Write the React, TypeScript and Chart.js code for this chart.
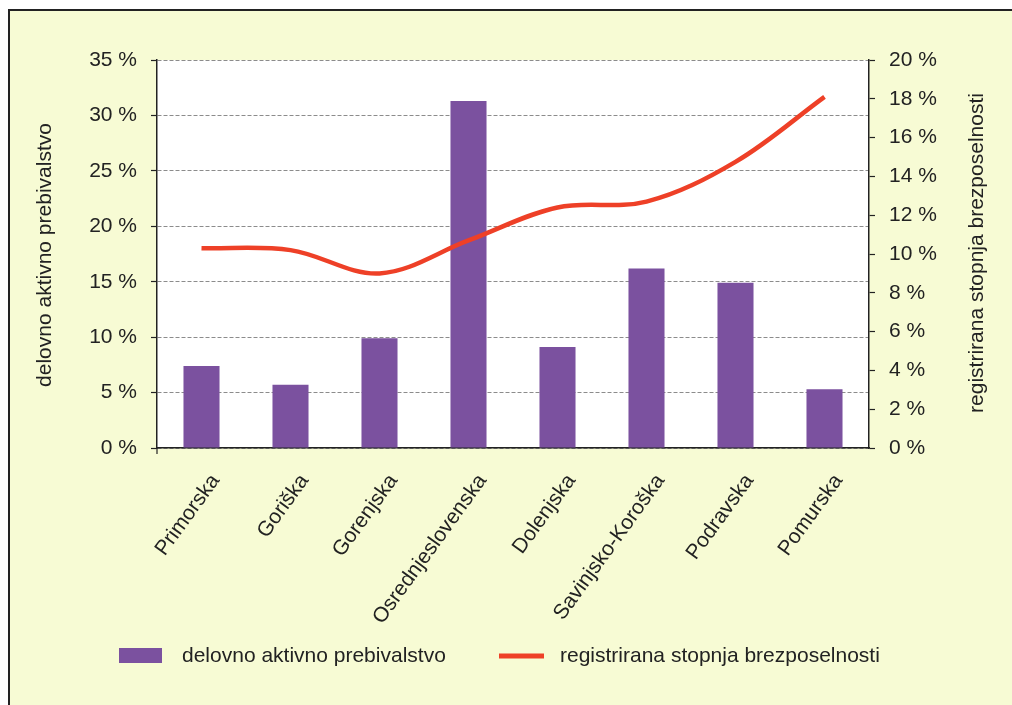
import React, { useEffect, useRef } from "react";
import { Chart, registerables } from "chart.js";

Chart.register(...registerables);

const categories = [
  "Primorska",
  "Goriška",
  "Gorenjska",
  "Osrednjeslovenska",
  "Dolenjska",
  "Savinjsko-Koroška",
  "Podravska",
  "Pomurska",
];
const workforceShare = [7.4, 5.7, 9.9, 31.3, 9.1, 16.2, 14.9, 5.3];
const unemploymentRate = [10.3, 10.2, 9.0, 10.7, 12.4, 12.7, 14.75, 18.1];

const leftTitle = "delovno aktivno prebivalstvo";
const rightTitle = "registrirana stopnja brezposelnosti";
const barLabel = "delovno aktivno prebivalstvo";
const lineLabel = "registrirana stopnja brezposelnosti";

const BAR_COLOR = "#7B519F";
const LINE_COLOR = "#EE4027";
const TEXT_COLOR = "#222222";
const FONT = "Liberation Sans, Arial, sans-serif";

const decorPlugin = {
  id: "decor",
  beforeDraw(chart: any) {
    const { ctx, chartArea } = chart;
    ctx.save();
    ctx.fillStyle = "#ffffff";
    ctx.fillRect(chartArea.left, chartArea.top, chartArea.right - chartArea.left, chartArea.bottom - chartArea.top);
    ctx.restore();
  },
  afterDraw(chart: any) {
    const { ctx } = chart;
    const xScale = chart.scales.x;
    ctx.save();
    ctx.fillStyle = TEXT_COLOR;
    ctx.font = `21px ${FONT}`;
    // category labels
    const angle = (-54 * Math.PI) / 180;
    ctx.textAlign = "right";
    ctx.textBaseline = "middle";
    categories.forEach((label, i) => {
      const x = xScale.getPixelForValue(i);
      ctx.save();
      ctx.translate(x + 14, xScale.top + 29);
      ctx.rotate(angle);
      ctx.fillText(label, 0, 0);
      ctx.restore();
    });
    ctx.textAlign = "center";
    // axis titles
    ctx.save();
    ctx.translate(45, 255);
    ctx.rotate(-Math.PI / 2);
    ctx.fillText(leftTitle, 0, 0);
    ctx.restore();
    ctx.save();
    ctx.translate(977, 253);
    ctx.rotate(-Math.PI / 2);
    ctx.fillText(rightTitle, 0, 0);
    ctx.restore();
    // legend
    ctx.fillStyle = BAR_COLOR;
    ctx.fillRect(119, 648, 43, 15);
    ctx.strokeStyle = LINE_COLOR;
    ctx.lineWidth = 5;
    ctx.beginPath();
    ctx.moveTo(499, 656);
    ctx.lineTo(544, 656);
    ctx.stroke();
    ctx.fillStyle = TEXT_COLOR;
    ctx.textAlign = "left";
    ctx.textBaseline = "alphabetic";
    ctx.fillText(barLabel, 182, 662);
    ctx.fillText(lineLabel, 560, 662);
    // small tick below axis origin
    ctx.strokeStyle = "#222";
    ctx.lineWidth = 1.2;
    ctx.beginPath();
    ctx.moveTo(xScale.left, xScale.top);
    ctx.lineTo(xScale.left, xScale.top + 6);
    ctx.stroke();
    ctx.restore();
  },
};

export default function App() {
  const ref = useRef<HTMLCanvasElement>(null);

  useEffect(() => {
    if (!ref.current) return;
    const chart = new Chart(ref.current, {
      type: "bar",
      data: {
        labels: categories,
        datasets: [
          {
            type: "line",
            label: lineLabel,
            data: unemploymentRate,
            yAxisID: "y2",
            borderColor: LINE_COLOR,
            borderWidth: 4.5,
            pointRadius: 0,
            tension: 0.35,
            fill: false,
            order: 0,
          } as any,
          {
            type: "bar",
            label: barLabel,
            data: workforceShare,
            yAxisID: "y",
            backgroundColor: BAR_COLOR,
            categoryPercentage: 1,
            barPercentage: 0.405,
            order: 1,
          },
        ],
      },
      options: {
        responsive: false,
        animation: false,
        layout: { padding: { top: 60, left: 0, right: 0, bottom: 0 } },
        plugins: {
          legend: { display: false },
          tooltip: { enabled: false },
        },
        scales: {
          x: {
            offset: true,
            grid: { display: false, drawTicks: false },
            border: { display: true, color: "#222", width: 1.5 },
            ticks: { display: false, autoSkip: false },
            afterFit(scale: any) {
              scale.height = 705 - 448;
            },
          },
          y: {
            position: "left",
            min: 0,
            max: 35,
            ticks: {
              stepSize: 5,
              color: TEXT_COLOR,
              padding: 14,
              font: { family: FONT, size: 21 },
              callback: (v: any) => `${v} %`,
            },
            grid: {
              color: "#8c8c8c",
              lineWidth: 1,
              tickLength: 6,
              tickColor: "#222",
              tickBorderDash: [],
              tickWidth: 1.2,
            },
            border: { display: true, color: "#222", width: 1.5, dash: [4, 2] },
            afterFit(scale: any) {
              scale.width = 157;
            },
          },
          y2: {
            position: "right",
            min: 0,
            max: 20,
            ticks: {
              stepSize: 2,
              color: TEXT_COLOR,
              padding: 14,
              font: { family: FONT, size: 21 },
              callback: (v: any) => `${v} %`,
            },
            grid: {
              drawOnChartArea: false,
              tickLength: 6,
              tickColor: "#222",
              tickWidth: 1.2,
            },
            border: { display: true, color: "#222", width: 1.5 },
            afterFit(scale: any) {
              scale.width = 1012 - 869;
            },
          },
        },
      },
      plugins: [decorPlugin],
    });
    return () => chart.destroy();
  }, []);

  return (
    <div>
      <div
        style={{
          position: "fixed",
          left: 8,
          top: 9,
          right: 0,
          bottom: 0,
          background: "#F7FBD4",
          borderLeft: "2px solid #222",
          borderTop: "2px solid #222",
        }}
      />
      <canvas
        ref={ref}
        width={1012}
        height={705}
        style={{ position: "fixed", left: 0, top: 0, width: 1012, height: 705 }}
      />
    </div>
  );
}
